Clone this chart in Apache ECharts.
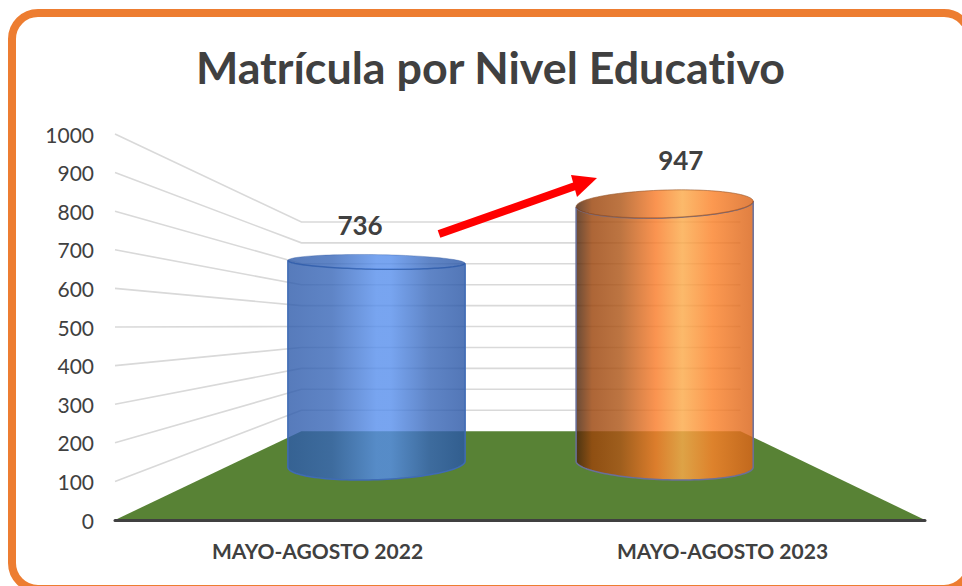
<!DOCTYPE html>
<html>
<head>
<meta charset="utf-8">
<style>
html, body { margin: 0; padding: 0; background: #fff; }
#chart { width: 962px; height: 586px; }
#chart text { font-variant-ligatures: none; }
</style>
<script src="https://cdn.jsdelivr.net/npm/echarts@6/dist/echarts.min.js"></script>
</head>
<body>
<div id="chart"></div>
<script>
// datos
var categories = ['MAYO-AGOSTO 2022', 'MAYO-AGOSTO 2023'];
var matricula = [736, 947];
var yTicks = [100, 200, 300, 400, 500, 600, 700, 800, 900, 1000];

// degradados de los cilindros
var blueStops = [
    { offset: 0, color: 'rgba(45,90,170,0.8)' },
    { offset: 0.25, color: 'rgba(55,102,184,0.8)' },
    { offset: 0.5, color: 'rgba(86,142,236,0.8)' },
    { offset: 0.58, color: 'rgba(86,142,236,0.8)' },
    { offset: 0.8, color: 'rgba(55,102,184,0.8)' },
    { offset: 1, color: 'rgba(40,85,165,0.8)' }
];
var orangeStops = [
    { offset: 0, color: 'rgba(74,36,11,0.82)' },
    { offset: 0.09, color: 'rgba(155,68,11,0.82)' },
    { offset: 0.25, color: 'rgba(174,86,24,0.82)' },
    { offset: 0.45, color: 'rgba(249,124,42,0.82)' },
    { offset: 0.6, color: 'rgba(251,170,74,0.82)' },
    { offset: 0.77, color: 'rgba(251,130,42,0.82)' },
    { offset: 1, color: 'rgba(217,99,24,0.82)' }
];
var cylinderStyles = [
    { stops: blueStops, stroke: '#3f6bb5', rim: 'rgba(50,90,160,0.35)' },
    { stops: orangeStops, stroke: '#6a6f9a', rim: 'rgba(150,85,40,0.6)' }
];

// perspectiva: punto de fuga y profundidad
var fontName = 'Lato, "Open Sans", sans-serif';
var textColor = '#404040';
var vanish = [522, 326];
var backScale = 0.542;
var barDepth = 0.63;
var barRadiusDepth = 0.18;
var barRadius = 0.302; // fraccion del ancho de categoria
var labelScale = 0.792;

function scaleAt(depth) {
    return 1 - depth * (1 - backScale);
}
function project(x, y, depth) {
    var s = scaleAt(depth);
    return [vanish[0] + (x - vanish[0]) * s, vanish[1] + (y - vanish[1]) * s];
}
function circlePoints(cx, y, radius) {
    var pts = [];
    var r = radius * scaleAt(barDepth);
    for (var i = 0; i < 120; i++) {
        var a = i / 120 * Math.PI * 2;
        var p = project(cx, y, barDepth + barRadiusDepth * Math.sin(a));
        pts.push([p[0] + r * Math.cos(a), p[1]]);
    }
    return pts;
}
function extremeIndex(pts, sign) {
    var best = 0;
    pts.forEach(function (p, i) {
        if ((p[0] - pts[best][0]) * sign > 0) best = i;
    });
    return best;
}
// silueta: frente de la base + fondo de la tapa
function bodyOutline(top, bottom) {
    var out = [];
    var n = bottom.length;
    var i = extremeIndex(bottom, -1), end = extremeIndex(bottom, 1);
    while (i !== end) {
        out.push(bottom[i]);
        i = (i + 1) % n;
    }
    out.push(bottom[end]);
    i = extremeIndex(top, 1);
    end = extremeIndex(top, -1);
    while (i !== end) {
        out.push(top[i]);
        i = (i + 1) % n;
    }
    out.push(top[end]);
    return out;
}

function renderWall(params, api) {
    var box = params.coordSys;
    var y = api.coord([0, api.value(0)])[1];
    var left = box.x;
    var right = box.x + box.width;
    return {
        type: 'polyline',
        shape: { points: [[left, y], project(left, y, 1), project(right, y, 1)] },
        style: { fill: 'none', stroke: '#d9d9d9', lineWidth: 1.6 },
        silent: true
    };
}

function renderFloor(params, api) {
    var box = params.coordSys;
    var y = api.coord([0, 0])[1];
    var left = box.x;
    var right = box.x + box.width;
    return {
        type: 'polygon',
        shape: { points: [[left, y], project(left, y, 1), project(right, y, 1), [right, y]] },
        style: { fill: '#588235' },
        silent: true
    };
}

function renderCylinder(params, api) {
    var cat = api.value(0);
    var point = api.coord([cat, api.value(1)]);
    var base = api.coord([cat, 0]);
    var radius = api.size([1, 0])[0] * barRadius;
    var look = cylinderStyles[params.dataIndex];
    var top = circlePoints(point[0], point[1], radius);
    var bottom = circlePoints(base[0], base[1], radius);
    var fill = { type: 'linear', x: 0, y: 0, x2: 1, y2: 0, colorStops: look.stops };
    var labelPos = [
        vanish[0] + (point[0] - vanish[0]) * labelScale,
        vanish[1] + (point[1] - vanish[1]) * labelScale - 30
    ];
    return {
        type: 'group',
        children: [
            {
                type: 'polygon',
                shape: { points: bodyOutline(top, bottom) },
                style: { fill: fill, stroke: look.stroke, lineWidth: 1.5 }
            },
            {
                type: 'polygon',
                shape: { points: top },
                style: { fill: fill, stroke: look.rim, lineWidth: 1 }
            },
            {
                type: 'text',
                style: {
                    x: labelPos[0],
                    y: labelPos[1],
                    text: String(api.value(1)),
                    align: 'center',
                    verticalAlign: 'middle',
                    font: 'bold 26px ' + fontName,
                    fill: textColor
                }
            }
        ]
    };
}

var chart = echarts.init(document.getElementById('chart'), null, { renderer: 'svg' });

chart.setOption({
    animation: false,
    backgroundColor: '#ffffff',
    title: {
        text: 'Matrícula por Nivel Educativo',
        left: 485.5,
        top: 39,
        textAlign: 'center',
        textStyle: { fontFamily: fontName, fontWeight: 'bold', fontSize: 44.8, color: textColor }
    },
    grid: { left: 115, right: 37, top: 134, bottom: 66 },
    xAxis: {
        type: 'category',
        data: categories,
        z: 10,
        axisTick: { show: false },
        axisLine: { lineStyle: { color: '#404040', width: 3 } },
        axisLabel: { margin: 20, fontFamily: fontName, fontWeight: 'bold', fontSize: 21, color: textColor }
    },
    yAxis: {
        type: 'value',
        min: 0,
        max: 1000,
        interval: 100,
        splitLine: { show: false },
        axisLine: { show: false },
        axisTick: { show: false },
        axisLabel: {
            margin: 21,
            fontFamily: fontName,
            fontSize: 21,
            color: textColor,
            formatter: function (v) { return String(v); }
        }
    },
    graphic: [
        {
            type: 'rect',
            silent: true,
            z: 0,
            shape: { x: 12, y: 13, width: 958, height: 576, r: 26 },
            style: { fill: 'none', stroke: '#ed7d31', lineWidth: 8 }
        },
        {
            type: 'line',
            silent: true,
            z: 20,
            shape: { x1: 439, y1: 234, x2: 578, y2: 185 },
            style: { stroke: '#ff0000', lineWidth: 8 }
        },
        {
            type: 'polygon',
            silent: true,
            z: 20,
            shape: { points: [[597, 178], [571, 175], [577, 197]] },
            style: { fill: '#ff0000' }
        }
    ],
    series: [
        { type: 'custom', name: 'pared', renderItem: renderWall, data: yTicks.map(function (v) { return [v]; }), encode: { y: 0 }, clip: false, z: 1 },
        { type: 'custom', name: 'piso', renderItem: renderFloor, data: [[0]], clip: false, z: 2 },
        {
            type: 'custom',
            name: 'Matrícula',
            renderItem: renderCylinder,
            data: matricula.map(function (v, i) { return [i, v]; }),
            encode: { x: 0, y: 1 },
            clip: false,
            z: 3
        }
    ]
});
</script>
</body>
</html>
